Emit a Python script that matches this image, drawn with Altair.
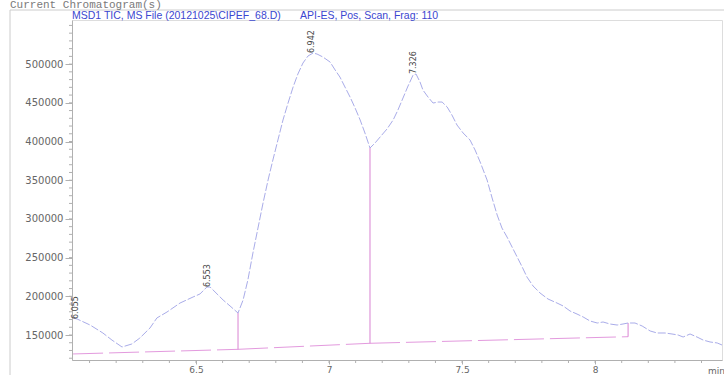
import altair as alt
import pandas as pd

# ---- data ----
curve_t = [6.038, 6.053, 6.102, 6.150, 6.184, 6.222, 6.259, 6.289, 6.327, 6.353, 6.391, 6.440,
           6.489, 6.515, 6.541, 6.553, 6.602, 6.628, 6.658, 6.677, 6.695, 6.714, 6.733, 6.752,
           6.771, 6.789, 6.808, 6.827, 6.846, 6.865, 6.883, 6.902, 6.921, 6.940, 6.955, 6.977,
           7.004, 7.023, 7.041, 7.060, 7.079, 7.098, 7.117, 7.135, 7.154, 7.173, 7.192, 7.218,
           7.241, 7.259, 7.278, 7.297, 7.316, 7.327, 7.342, 7.353, 7.372, 7.391, 7.410, 7.425,
           7.444, 7.462, 7.481, 7.504, 7.530, 7.549, 7.568, 7.594, 7.613, 7.632, 7.650, 7.669,
           7.688, 7.707, 7.726, 7.744, 7.767, 7.793, 7.823, 7.857, 7.880, 7.906, 7.932, 7.955,
           7.981, 8.008, 8.030, 8.056, 8.083, 8.105, 8.124, 8.150, 8.177, 8.207, 8.233, 8.263,
           8.289, 8.312, 8.331, 8.357, 8.383, 8.406, 8.432, 8.459, 8.477]
curve_i = [172000, 170700, 162900, 152600, 143500, 134500, 138400, 146100, 159000, 172000, 179700, 191300,
           199100, 203000, 212000, 212000, 195200, 187500, 178400, 195200, 221000, 256000, 288200, 320500,
           350300, 376100, 402000, 427800, 449700, 470400, 487200, 501400, 510500, 514300, 513000, 509200,
           502700, 492400, 483300, 470400, 457500, 443300, 427800, 411000, 391600, 398100, 405800, 416200,
           427800, 440700, 456200, 471700, 485900, 487200, 476900, 466500, 457500, 449700, 451000, 451000,
           444600, 434200, 421300, 411000, 401900, 389000, 373500, 350300, 327000, 305000, 288200, 276600,
           263700, 250800, 237900, 224900, 213300, 204300, 196500, 191300, 187500, 181000, 177100, 173300,
           168100, 165500, 166800, 164200, 162900, 164200, 165500, 165500, 161600, 155200, 152600, 152600,
           151300, 150000, 147400, 151300, 147400, 143500, 141000, 139700, 137100]

base_t_start = [6.038, 6.658, 7.154]
base_i_start = [125500, 131500, 139300]
base_t_end = [6.658, 7.154, 8.124]
base_i_end = [131500, 139300, 147800]

drop_t = [6.658, 7.154, 8.124]
drop_low = [131500, 139300, 147800]
drop_high = [178400, 391600, 165500]

peak_t = [6.055, 6.553, 6.942, 7.326]
peak_i = [170700, 212000, 514300, 487200]
peak_label = ["6.055", "6.553", "6.942", "7.326"]

x_ticks = [6.5, 7.0, 7.5, 8.0]
x_minor = [6.1, 6.2, 6.3, 6.4, 6.5, 6.6, 6.7, 6.8, 6.9, 7.0, 7.1, 7.2, 7.3, 7.4, 7.5,
           7.6, 7.7, 7.8, 7.9, 8.0, 8.1, 8.2, 8.3, 8.4]
y_ticks = [150000, 200000, 250000, 300000, 350000, 400000, 450000, 500000]
y_minor = [120000, 130000, 140000, 150000, 160000, 170000, 180000, 190000, 200000, 210000,
           220000, 230000, 240000, 250000, 260000, 270000, 280000, 290000, 300000, 310000,
           320000, 330000, 340000, 350000, 360000, 370000, 380000, 390000, 400000, 410000,
           420000, 430000, 440000, 450000, 460000, 470000, 480000, 490000, 500000, 510000,
           520000, 530000, 540000, 550000]

title_text = "Current Chromatogram(s)"
sub1_text = "MSD1 TIC, MS File (20121025\\CIPEF_68.D)"
sub2_text = "API-ES, Pos, Scan, Frag: 110"

X_DOM = [6.034, 8.477]
Y_DOM = [117700, 557000]
FONT = "DejaVu Sans"
AX = "#b0b0b0"
LBL = "#666"

xs = alt.Scale(domain=X_DOM, nice=False, zero=False)
ys = alt.Scale(domain=Y_DOM, nice=False, zero=False)

curve_df = pd.DataFrame({"t": curve_t, "i": curve_i})
base_df = pd.DataFrame({"t": base_t_start, "i": base_i_start, "t2": base_t_end, "i2": base_i_end})
drop_df = pd.DataFrame({"t": drop_t, "lo": drop_low, "hi": drop_high})
peak_df = pd.DataFrame({"t": peak_t, "i": peak_i, "lab": peak_label})
xminor_df = pd.DataFrame({"t": x_minor})
yminor_df = pd.DataFrame({"v": y_minor})
one = pd.DataFrame({"a": [0]})

curve = alt.Chart(curve_df).mark_line(color="#a9ace9", strokeWidth=1, strokeDash=[8, 2]).encode(
    x=alt.X("t:Q", scale=xs, title=None,
            axis=alt.Axis(values=x_ticks, format=".1~f", grid=False, domainColor=AX, tickColor=AX,
                          tickSize=4, labelColor=LBL, labelFont=FONT, labelFontSize=9,
                          labelPadding=1)),
    y=alt.Y("i:Q", scale=ys, title=None,
            axis=alt.Axis(values=y_ticks, format="d", grid=False, domainColor=AX, tickColor=AX,
                          tickSize=7, labelColor=LBL, labelFont=FONT, labelFontSize=10,
                          labelPadding=2)),
)

base = alt.Chart(base_df).mark_rule(color="#e39ade", strokeWidth=1, strokeDash=[30, 6]).encode(
    x=alt.X("t:Q", scale=xs), x2="t2:Q",
    y=alt.Y("i:Q", scale=ys), y2="i2:Q",
)

drops = alt.Chart(drop_df).mark_rule(color="#d983d2", strokeWidth=1).encode(
    x=alt.X("t:Q", scale=xs),
    y=alt.Y("lo:Q", scale=ys), y2="hi:Q",
)

peaks = alt.Chart(peak_df).mark_text(angle=270, align="left", baseline="middle", dy=-2,
                                      font=FONT, fontSize=8, color="#444").encode(
    x=alt.X("t:Q", scale=xs), y=alt.Y("i:Q", scale=ys), text="lab:N",
)

xminor = alt.Chart(xminor_df).mark_rule(color=AX).encode(
    x=alt.X("t:Q", scale=xs), y=alt.value(340), y2=alt.value(343),
)
yminor = alt.Chart(yminor_df).mark_rule(color=AX).encode(
    y=alt.Y("v:Q", scale=ys), x=alt.value(-3), x2=alt.value(0),
)

frame_top = alt.Chart(one).mark_rule(color="#cccccc").encode(
    x=alt.value(-62), x2=alt.value(652), y=alt.value(-10))
frame_left = alt.Chart(one).mark_rule(color="#cccccc").encode(
    x=alt.value(-62), y=alt.value(-10), y2=alt.value(360))

title = alt.Chart(one).mark_text(text=title_text, align="left", baseline="alphabetic",
                                 font="Liberation Mono", fontSize=11, color="#7a7a7a").encode(
    x=alt.value(-62), y=alt.value(-12.5))
sub1 = alt.Chart(one).mark_text(text=sub1_text, align="left", baseline="middle",
                                font="Liberation Sans", fontSize=10.5, color="#3b46d0").encode(
    x=alt.value(0), y=alt.value(-4))
sub2 = alt.Chart(one).mark_text(text=sub2_text, align="left", baseline="middle",
                                font="Liberation Sans", fontSize=10.5, color="#3b46d0").encode(
    x=alt.value(228), y=alt.value(-4))
minlab = alt.Chart(one).mark_text(text="min", align="left", baseline="middle",
                                  font=FONT, fontSize=9, color=LBL).encode(
    x=alt.value(636), y=alt.value(351))

chart = alt.layer(
    frame_top, frame_left, base, drops, curve, peaks, xminor, yminor, title, sub1, sub2, minlab
).properties(
    width=650, height=340,
    autosize=alt.AutoSizeParams(type="none"),
    padding={"left": 72, "top": 20, "right": 2, "bottom": 15},
).configure_view(stroke=None).configure(background="white")

chart.save("out.html", embed_options={"renderer": "svg", "actions": False})
